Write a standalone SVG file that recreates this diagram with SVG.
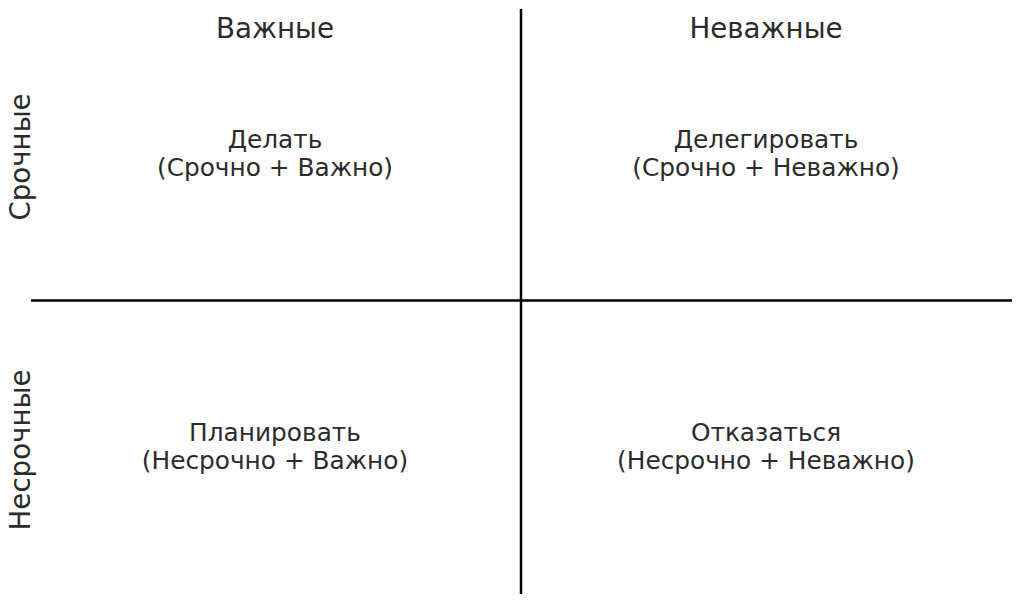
<svg xmlns="http://www.w3.org/2000/svg" width="1024" height="607" viewBox="0 0 1024 607">
<style>
text{font-family:"DejaVu Sans",sans-serif;fill:#2b2b2b;text-anchor:middle}
.h{font-size:27.7px}
.v{font-size:27.7px}
.q{font-size:24.8px}
.ax{stroke:#000;stroke-width:2.5;fill:none}
</style>
<rect width="1024" height="607" fill="#fff"/>
<g id="connectors">
<line class="ax" x1="521" y1="9" x2="521" y2="594"/>
<line class="ax" x1="31" y1="300.5" x2="1012" y2="300.5"/>
</g>
<g id="header-important"><text class="h" x="275" y="38">Важные</text></g>
<g id="header-unimportant"><text class="h" x="766" y="38">Неважные</text></g>
<g id="label-urgent"><text class="v" transform="translate(30,157) rotate(-90)">Срочные</text></g>
<g id="label-nonurgent"><text class="v" transform="translate(30,450) rotate(-90)">Несрочные</text></g>
<g id="q1"><text class="q" x="275" y="148">Делать</text><text class="q" x="275" y="176">(Срочно + Важно)</text></g>
<g id="q2"><text class="q" x="766" y="148">Делегировать</text><text class="q" x="766" y="176">(Срочно + Неважно)</text></g>
<g id="q3"><text class="q" x="275" y="441">Планировать</text><text class="q" x="275" y="469">(Несрочно + Важно)</text></g>
<g id="q4"><text class="q" x="766" y="441">Отказаться</text><text class="q" x="766" y="469">(Несрочно + Неважно)</text></g>
</svg>
